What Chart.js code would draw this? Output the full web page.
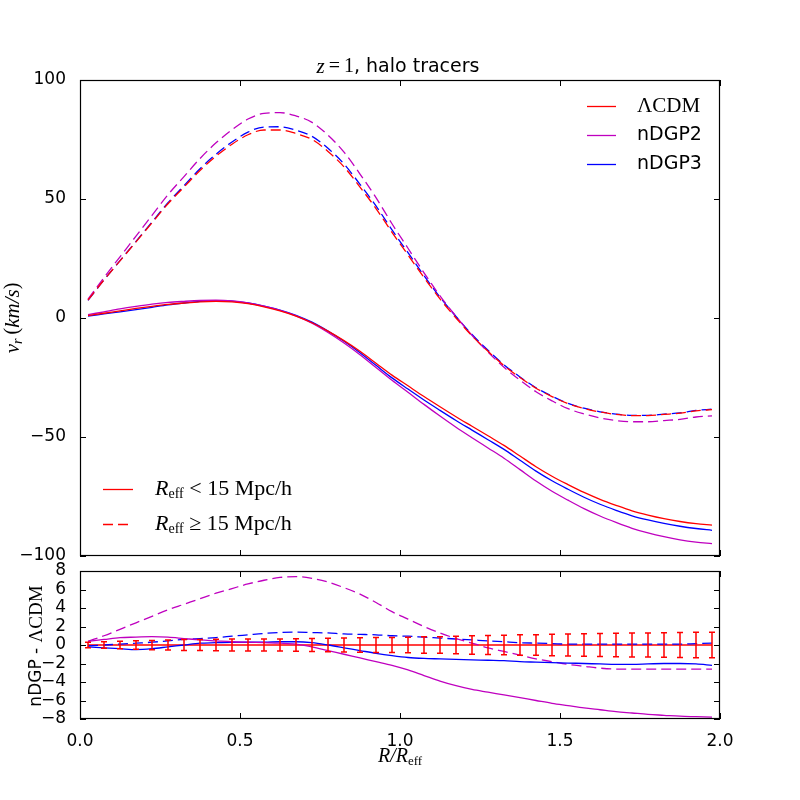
<!DOCTYPE html>
<html>
<head>
<meta charset="utf-8">
<script src="https://cdn.jsdelivr.net/npm/chart.js@4.4.1/dist/chart.umd.min.js"></script>
<style>
body { margin: 0; background: #fff; }
#wrap { position: relative; width: 800px; height: 800px; }
canvas { position: absolute; left: 0; top: 0; }
</style>
</head>
<body>
<div id="wrap">
<canvas id="topChart" width="800" height="800"></canvas>
<canvas id="bottomChart" width="800" height="800"></canvas>
</div>
<script>
// R / R_eff sample points
const xs = [0.025, 0.075, 0.125, 0.175, 0.225, 0.275, 0.325, 0.375, 0.425, 0.475,
            0.525, 0.575, 0.625, 0.675, 0.725, 0.775, 0.825, 0.875, 0.925, 0.975,
            1.025, 1.075, 1.125, 1.175, 1.225, 1.275, 1.325, 1.375, 1.425, 1.475,
            1.525, 1.575, 1.625, 1.675, 1.725, 1.775, 1.825, 1.875, 1.925, 1.975]

// top panel, R_eff < 15 Mpc/h (solid)
const lcdmSmall = [1.0, 2.0, 3.0, 4.0, 4.9, 5.7, 6.3, 6.8, 7.0, 6.8,
                   6.0, 4.7, 3.0, 0.8, -2.0, -5.5, -9.5, -14, -19, -24,
                   -28.5, -33, -37.3, -41.5, -45.5, -49.5, -53.5, -58, -62.5, -66.5,
                   -70, -73.3, -76.2, -78.7, -81, -82.8, -84.3, -85.5, -86.4, -87]
const ndgp2Small = [1.4, 2.6, 3.8, 4.85, 5.8, 6.55, 7.0, 7.35, 7.45, 7.15,
                    6.3, 4.95, 3.2, 0.9, -2.2, -6.1, -10.5, -15.4, -20.8, -26.2,
                    -31.2, -36.3, -41.2, -45.9, -50.3, -54.6, -58.9, -63.7, -68.5, -72.8,
                    -76.55, -80.1, -83.2, -85.9, -88.35, -90.3, -91.9, -93.2, -94.15, -94.8]
const ndgp3Small = [0.8, 1.7, 2.6, 3.5, 4.5, 5.5, 6.3, 7.0, 7.25, 7.1,
                    6.3, 5.0, 3.35, 1.15, -1.75, -5.5, -9.8, -14.6, -19.9, -25.15,
                    -29.85, -34.45, -38.8, -43.05, -47.1, -51.15, -55.2, -59.8, -64.35, -68.4,
                    -71.95, -75.3, -78.25, -80.8, -83.1, -84.85, -86.3, -87.5, -88.45, -89.2]

// top panel, R_eff >= 15 Mpc/h (dashed)
const lcdmLarge = [7.5, 16, 24, 32, 40, 48, 55, 62, 68, 73,
                   77, 79, 79, 77.5, 75, 70, 63.5, 55, 46, 36,
                   26.5, 17, 8, 0, -7.5, -14, -20, -25, -29.5, -33,
                   -36, -38, -39.5, -40.5, -41, -41, -40.5, -40, -39, -38.5]
const ndgp2Large = [7.9, 17, 25.7, 34.4, 43.1, 51.8, 59.4, 67, 73.6, 79.1,
                    83.6, 86, 86.3, 84.9, 82.2, 76.8, 69.7, 60.5, 50.6, 39.6,
                    29.3, 19, 9.3, 0.7, -7.3, -14.3, -20.7, -26.1, -31, -34.8,
                    -38.1, -40.3, -42, -43.1, -43.6, -43.6, -43.1, -42.6, -41.6, -41.1]
const ndgp3Large = [7.4, 16, 24.1, 32.2, 40.3, 48.45, 55.6, 62.7, 68.8, 73.95,
                    78.1, 80.25, 80.35, 78.9, 76.35, 71.3, 64.7, 56.15, 47.1, 37,
                    27.45, 17.85, 8.75, 0.65, -6.95, -13.55, -19.65, -24.75, -29.3, -32.85,
                    -35.9, -37.9, -39.4, -40.4, -40.9, -40.9, -40.4, -39.9, -38.85, -38.3]

// bottom panel, nDGP - LCDM
const diff2Small = [0.4, 0.6, 0.8, 0.85, 0.9, 0.85, 0.7, 0.55, 0.45, 0.35,
                    0.3, 0.25, 0.2, 0.1, -0.2, -0.6, -1.0, -1.4, -1.8, -2.2,
                    -2.7, -3.3, -3.9, -4.4, -4.8, -5.1, -5.4, -5.7, -6.0, -6.3,
                    -6.55, -6.8, -7.0, -7.2, -7.35, -7.5, -7.6, -7.7, -7.75, -7.8]
const diff3Small = [-0.2, -0.3, -0.4, -0.5, -0.4, -0.2, 0, 0.2, 0.25, 0.3,
                    0.3, 0.3, 0.35, 0.35, 0.25, 0, -0.3, -0.6, -0.9, -1.15,
                    -1.35, -1.45, -1.5, -1.55, -1.6, -1.65, -1.7, -1.8, -1.85, -1.9,
                    -1.95, -2.0, -2.05, -2.1, -2.1, -2.05, -2.0, -2.0, -2.05, -2.2]
const diff2Large = [0.4, 1.0, 1.7, 2.4, 3.1, 3.8, 4.4, 5.0, 5.6, 6.1,
                    6.6, 7.0, 7.3, 7.4, 7.2, 6.8, 6.2, 5.5, 4.6, 3.6,
                    2.8, 2.0, 1.3, 0.7, 0.2, -0.3, -0.7, -1.1, -1.5, -1.8,
                    -2.1, -2.3, -2.5, -2.6, -2.6, -2.6, -2.6, -2.6, -2.6, -2.6]
const diff3Large = [-0.1, 0, 0.1, 0.2, 0.3, 0.45, 0.6, 0.7, 0.8, 0.95,
                    1.1, 1.25, 1.35, 1.4, 1.35, 1.3, 1.2, 1.15, 1.1, 1.0,
                    0.95, 0.85, 0.75, 0.65, 0.55, 0.45, 0.35, 0.25, 0.2, 0.15,
                    0.1, 0.1, 0.1, 0.1, 0.1, 0.1, 0.1, 0.1, 0.15, 0.2]
const diffLcdm = new Array(xs.length).fill(0)
const lcdmErr = [0.3, 0.35, 0.4, 0.45, 0.5, 0.55, 0.6, 0.6, 0.62, 0.65,
                 0.65, 0.65, 0.65, 0.68, 0.7, 0.72, 0.75, 0.78, 0.8, 0.82,
                 0.85, 0.88, 0.9, 0.95, 1.0, 1.03, 1.06, 1.1, 1.12, 1.15,
                 1.2, 1.22, 1.25, 1.27, 1.3, 1.3, 1.32, 1.35, 1.37, 1.38]

// ticks
const xTicks = [0, 0.5, 1.0, 1.5, 2.0]
const yTicksTop = [-100, -50, 0, 50, 100]
const yTicksBottom = [-8, -6, -4, -2, 0, 2, 4, 6, 8]

const RED = "#ff0000"
const MAG = "#bf00bf"
const BLUE = "#0000ff"
const SANS = "DejaVu Sans"
const SERIF = "Liberation Serif"
const DASH = [10, 5]

function pts(arr) {
    return arr.map((v, i) => ({ x: xs[i], y: v }))
}

function line(label, arr, color, dashed, width) {
    return {
        label: label,
        data: pts(arr),
        borderColor: color,
        borderWidth: width || 1.3,
        borderDash: dashed ? DASH : [],
        pointRadius: 0,
        fill: false,
        cubicInterpolationMode: "monotone"
    }
}

function minusFmt(v) {
    return v < 0 ? "\u2212" + Math.abs(v) : String(v)
}

// draws a row of text pieces with different fonts
function drawParts(ctx, x, y, parts, align) {
    let total = 0
    parts.forEach(p => { ctx.font = p[1]; total += ctx.measureText(p[0]).width })
    let cx = align === "center" ? x - total / 2 : (align === "right" ? x - total : x)
    ctx.textAlign = "left"
    ctx.textBaseline = "middle"
    parts.forEach(p => {
        ctx.font = p[1]
        ctx.fillText(p[0], cx, y + (p[2] || 0))
        cx += ctx.measureText(p[0]).width
    })
}

// frame and inward tick marks, matplotlib style
function frameAndTicks(yTicks) {
    return {
        id: "frame",
        afterDatasetsDraw(chart) {
            const ctx = chart.ctx
            const a = chart.chartArea
            const sx = chart.scales.x
            const sy = chart.scales.y
            ctx.save()
            ctx.strokeStyle = "#000"
            ctx.lineWidth = 1
            xTicks.forEach(v => {
                const px = Math.round(sx.getPixelForValue(v)) + 0.5
                ctx.beginPath()
                ctx.moveTo(px, a.bottom); ctx.lineTo(px, a.bottom - 6)
                ctx.moveTo(px, a.top); ctx.lineTo(px, a.top + 6)
                ctx.stroke()
            })
            yTicks.forEach(v => {
                const py = Math.round(sy.getPixelForValue(v)) + 0.5
                ctx.beginPath()
                ctx.moveTo(a.left, py); ctx.lineTo(a.left + 6, py)
                ctx.moveTo(a.right, py); ctx.lineTo(a.right - 6, py)
                ctx.stroke()
            })
            ctx.lineWidth = 1.2
            ctx.strokeRect(a.left + 0.5, a.top + 0.5, a.right - a.left - 1, a.bottom - a.top - 1)
            ctx.restore()
        }
    }
}

const topLabels = {
    id: "topLabels",
    afterDraw(chart) {
        const ctx = chart.ctx
        ctx.save()
        ctx.fillStyle = "#000"
        // title
        drawParts(ctx, 398, 67, [
            ["z", "italic 21px " + SERIF],
            ["\u2009=\u20091", "20px " + SERIF],
            [", halo tracers", "19px " + SANS]
        ], "center")

        // y axis label
        ctx.translate(13, 318)
        ctx.rotate(-Math.PI / 2)
        drawParts(ctx, 0, 0, [
            ["v", "italic 21px " + SERIF],
            ["r", "italic 14px " + SERIF, 5],
            ["\u2009(", "20px " + SERIF],
            ["km/s", "italic 21px " + SERIF],
            [")", "20px " + SERIF]
        ], "center")
        ctx.setTransform(1, 0, 0, 1, 0, 0)

        // legend top right
        const models = [["\u039bCDM", "21px " + SERIF, RED], ["nDGP2", "19px " + SANS, MAG], ["nDGP3", "19px " + SANS, BLUE]]
        const rows = [106, 135, 164]
        models.forEach((m, i) => {
            ctx.strokeStyle = m[2]
            ctx.lineWidth = 1.3
            ctx.beginPath()
            ctx.moveTo(587, rows[i] + 0.5); ctx.lineTo(616, rows[i] + 0.5)
            ctx.stroke()
            ctx.fillStyle = "#000"
            drawParts(ctx, 637, rows[i], [[m[0], m[1]]], "left")
        })

        // legend bottom left
        const sizes = [["<", [], 489], ["\u2265", DASH, 524]]
        sizes.forEach(s => {
            ctx.strokeStyle = RED
            ctx.lineWidth = 1.3
            ctx.setLineDash(s[1])
            ctx.beginPath()
            ctx.moveTo(103, s[2] + 0.5); ctx.lineTo(133, s[2] + 0.5)
            ctx.stroke()
            ctx.setLineDash([])
            ctx.fillStyle = "#000"
            drawParts(ctx, 155, s[2], [
                ["R", "italic 22px " + SERIF],
                ["eff", "14px " + SERIF, 5],
                [" " + s[0] + " 15 Mpc/h", "22px " + SERIF]
            ], "left")
        })
        ctx.restore()
    }
}

const bottomLabels = {
    id: "bottomLabels",
    afterDraw(chart) {
        const ctx = chart.ctx
        ctx.save()
        ctx.fillStyle = "#000"
        drawParts(ctx, 400, 757, [
            ["R/R", "italic 20px " + SERIF],
            ["eff", "13px " + SERIF, 5]
        ], "center")
        ctx.translate(37, 646)
        ctx.rotate(-Math.PI / 2)
        drawParts(ctx, 0, 0, [
            ["nDGP - ", "17px " + SANS],
            ["\u039bCDM", "19px " + SERIF]
        ], "center")
        ctx.restore()
    }
}

const errorBars = {
    id: "errorBars",
    afterDatasetsDraw(chart) {
        const ctx = chart.ctx
        const sx = chart.scales.x
        const sy = chart.scales.y
        ctx.save()
        ctx.strokeStyle = RED
        ctx.lineWidth = 1.5
        xs.forEach((x, i) => {
            const px = sx.getPixelForValue(x)
            const y1 = sy.getPixelForValue(diffLcdm[i] + lcdmErr[i])
            const y2 = sy.getPixelForValue(diffLcdm[i] - lcdmErr[i])
            ctx.beginPath()
            ctx.moveTo(px, y1); ctx.lineTo(px, y2)
            ctx.moveTo(px - 3, y1); ctx.lineTo(px + 3, y1)
            ctx.moveTo(px - 3, y2); ctx.lineTo(px + 3, y2)
            ctx.stroke()
        })
        ctx.restore()
    }
}

const tickFont = { family: SANS, size: 17 }

new Chart(document.getElementById("topChart"), {
    type: "line",
    data: {
        datasets: [
            line("LCDM small", lcdmSmall, RED, false),
            line("nDGP2 small", ndgp2Small, MAG, false),
            line("nDGP3 small", ndgp3Small, BLUE, false),
            line("LCDM large", lcdmLarge, RED, true),
            line("nDGP2 large", ndgp2Large, MAG, true),
            line("nDGP3 large", ndgp3Large, BLUE, true)
        ]
    },
    options: {
        responsive: false,
        animation: false,
        devicePixelRatio: 1,
        layout: { padding: { left: 0, right: 80, top: 80, bottom: 244 } },
        plugins: { legend: { display: false }, tooltip: { enabled: false } },
        scales: {
            x: { type: "linear", min: 0, max: 2, display: false },
            y: {
                type: "linear", min: -100, max: 100,
                grid: { display: false },
                border: { display: false },
                afterBuildTicks: s => { s.ticks = yTicksTop.map(v => ({ value: v })) },
                afterFit: s => { s.width = 80 },
                ticks: { color: "#000", font: tickFont, padding: 6, autoSkip: false, callback: v => minusFmt(v) }
            }
        }
    },
    plugins: [frameAndTicks(yTicksTop), topLabels]
})

new Chart(document.getElementById("bottomChart"), {
    type: "line",
    data: {
        datasets: [
            line("nDGP2 small", diff2Small, MAG, false),
            line("nDGP3 small", diff3Small, BLUE, false),
            line("nDGP2 large", diff2Large, MAG, true),
            line("nDGP3 large", diff3Large, BLUE, true),
            line("LCDM", diffLcdm, RED, false, 1.6)
        ]
    },
    options: {
        responsive: false,
        animation: false,
        devicePixelRatio: 1,
        layout: { padding: { left: 0, right: 80, top: 571, bottom: 0 } },
        plugins: { legend: { display: false }, tooltip: { enabled: false } },
        scales: {
            x: {
                type: "linear", min: 0, max: 2,
                grid: { display: false },
                border: { display: false },
                afterBuildTicks: s => { s.ticks = xTicks.map(v => ({ value: v })) },
                afterFit: s => { s.height = 81 },
                ticks: { color: "#000", font: tickFont, padding: 4, maxRotation: 0, autoSkip: false, callback: v => v.toFixed(1) }
            },
            y: {
                type: "linear", min: -8, max: 8,
                grid: { display: false },
                border: { display: false },
                afterBuildTicks: s => { s.ticks = yTicksBottom.map(v => ({ value: v })) },
                afterFit: s => { s.width = 80 },
                ticks: { color: "#000", font: tickFont, padding: 6, autoSkip: false, callback: v => minusFmt(v) }
            }
        }
    },
    plugins: [frameAndTicks(yTicksBottom), errorBars, bottomLabels]
})
</script>
</body>
</html>
